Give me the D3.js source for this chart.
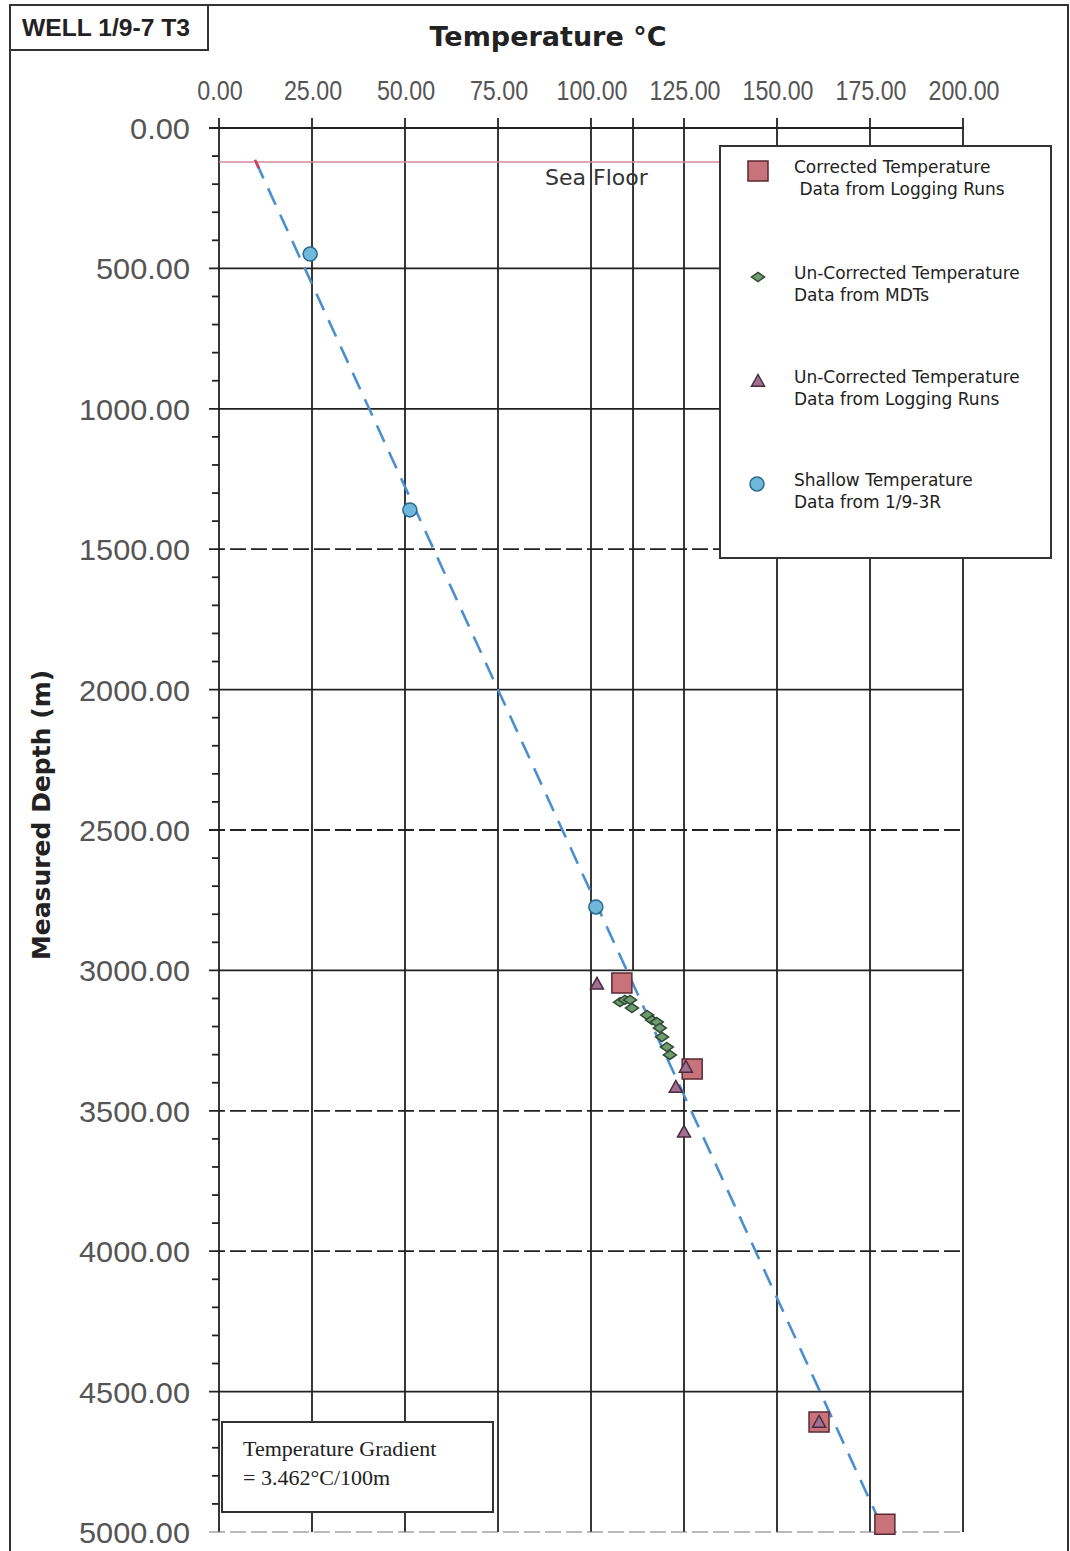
<!DOCTYPE html>
<html>
<head>
<meta charset="utf-8">
<script src="https://cdn.jsdelivr.net/npm/d3@7"></script>
<style>
  body { margin: 0; background: #fff; }
  svg { display: block; }
</style>
</head>
<body>
<div id="chart"></div>
<script>
'use strict'

// axis ticks
const tempTicks = [0, 25, 50, 75, 100, 125, 150, 175, 200]
const depthTicks = [0, 500, 1000, 1500, 2000, 2500, 3000, 3500, 4000, 4500, 5000]
const dashedDepths = [1500, 2500, 3500, 4000, 5000]

// corrected temperature, logging runs
const correctedTemp = [108.3, 127.2, 161.3, 179.0]
const correctedDepth = [3045, 3351, 4608, 4972]

// un-corrected, MDTs
const mdtTemp = [107.8, 109.1, 110.5, 111.0, 115.1, 116.4, 117.7, 118.5, 119.1, 120.4, 121.2]
const mdtDepth = [3113, 3105, 3105, 3134, 3159, 3177, 3184, 3205, 3237, 3273, 3301]

// un-corrected, logging runs
const loggingTemp = [101.6, 125.5, 122.8, 125.0, 161.3]
const loggingDepth = [3048, 3344, 3415, 3575, 4608]

// shallow data from 1/9-3R
const shallowTemp = [24.5, 51.3, 101.3]
const shallowDepth = [449, 1360, 2774]

// gradient line + sea floor
const seaFloorDepth = 121
const surfaceTemp = 5.76
const gradientPer100m = 3.462
const lineEndDepth = 5000
const refLineTemp = 111.3
const refLineDepth = 3000

const W = 1070, H = 1551
const x = d3.scaleLinear().domain([0, 200]).range([219, 963])
const y = d3.scaleLinear().domain([0, 5000]).range([128, 1532])

const svg = d3.select('#chart').append('svg')
  .attr('width', W).attr('height', H)

const comic = '"Comic Sans MS", "DejaVu Sans", sans-serif'
const sans = '"Liberation Sans", Arial, sans-serif'

// narrow digits: squeeze labels to the width seen in the chart
const labelWidth = (s, digitW, dotW) => s.replace('.', '').length * digitW + dotW

// outer frame
svg.append('rect')
  .attr('x', 10).attr('y', 5).attr('width', 1058).attr('height', H)
  .attr('fill', 'none').attr('stroke', '#333').attr('stroke-width', 2)

// well label box
svg.append('rect')
  .attr('x', 10).attr('y', 5).attr('width', 198).attr('height', 45)
  .attr('fill', '#fff').attr('stroke', '#333').attr('stroke-width', 2)
svg.append('text')
  .attr('x', 22).attr('y', 36)
  .attr('textLength', 168).attr('lengthAdjust', 'spacingAndGlyphs')
  .style('font-family', sans).style('font-weight', 'bold').style('font-size', '24px')
  .attr('fill', '#222')
  .text('WELL 1/9-7 T3')

// title
svg.append('text')
  .attr('x', 548).attr('y', 46).attr('text-anchor', 'middle')
  .style('font-family', comic).style('font-weight', 'bold').style('font-size', '27px')
  .attr('fill', '#222')
  .text('Temperature °C')

// y title
svg.append('text')
  .attr('transform', 'translate(50,815)rotate(-90)')
  .attr('text-anchor', 'middle')
  .style('font-family', comic).style('font-weight', 'bold').style('font-size', '25px')
  .attr('fill', '#222')
  .text('Measured Depth (m)')

const grid = svg.append('g')

// vertical grid lines + top ticks
grid.selectAll('line.vg')
  .data(tempTicks)
  .enter().append('line')
  .attr('x1', (d) => x(d)).attr('x2', (d) => x(d))
  .attr('y1', y(0) - 10).attr('y2', y(5000))
  .attr('stroke', '#222').attr('stroke-width', 1.8)

// extra reference line
grid.append('line')
  .attr('x1', x(refLineTemp)).attr('x2', x(refLineTemp))
  .attr('y1', y(0) - 10).attr('y2', y(refLineDepth))
  .attr('stroke', '#222').attr('stroke-width', 1.8)

// horizontal grid lines
grid.selectAll('line.hg')
  .data(depthTicks)
  .enter().append('line')
  .attr('x1', x(0) - 10).attr('x2', x(200))
  .attr('y1', (d) => y(d)).attr('y2', (d) => y(d))
  .attr('stroke', (d) => d === 5000 ? '#777' : '#222')
  .attr('stroke-width', (d) => d === 5000 ? 1.2 : 1.8)
  .attr('stroke-dasharray', (d) => dashedDepths.includes(d) ? '16,5' : null)

// minor ticks on depth axis
grid.selectAll('line.minor')
  .data(d3.range(0, 5001, 100).filter((d) => d % 500 !== 0))
  .enter().append('line')
  .attr('x1', x(0) - 7).attr('x2', x(0))
  .attr('y1', (d) => y(d)).attr('y2', (d) => y(d))
  .attr('stroke', '#222').attr('stroke-width', 1.8)

// tick labels
svg.append('g').selectAll('text')
  .data(tempTicks)
  .enter().append('text')
  .attr('x', (d) => x(d) + 1).attr('y', 100)
  .attr('text-anchor', 'middle')
  .attr('textLength', (d) => labelWidth(d.toFixed(2), 12.8, 7))
  .attr('lengthAdjust', 'spacingAndGlyphs')
  .style('font-family', sans).style('font-size', '27px')
  .attr('fill', '#555')
  .text((d) => d.toFixed(2))

svg.append('g').selectAll('text')
  .data(depthTicks)
  .enter().append('text')
  .attr('x', 190).attr('y', (d) => y(d) + 11)
  .attr('text-anchor', 'end')
  .attr('textLength', (d) => labelWidth(d.toFixed(2), 17, 9))
  .attr('lengthAdjust', 'spacingAndGlyphs')
  .style('font-family', sans).style('font-size', '30px')
  .attr('fill', '#555')
  .text((d) => d.toFixed(2))

// sea floor
svg.append('line')
  .attr('x1', x(0)).attr('x2', x(200))
  .attr('y1', y(seaFloorDepth)).attr('y2', y(seaFloorDepth))
  .attr('stroke', '#d48a98').attr('stroke-width', 1.6)
svg.append('text')
  .attr('x', 545).attr('y', 185)
  .style('font-family', comic).style('font-size', '22px')
  .attr('fill', '#333')
  .text('Sea Floor')

// gradient line
const tAt = (d) => surfaceTemp + gradientPer100m * d / 100
svg.append('line')
  .attr('x1', x(tAt(seaFloorDepth))).attr('y1', y(seaFloorDepth))
  .attr('x2', x(tAt(lineEndDepth))).attr('y2', y(lineEndDepth))
  .attr('stroke', '#4a8fd0').attr('stroke-width', 2.6)
  .attr('stroke-dasharray', '18,11')
svg.append('line')
  .attr('x1', x(tAt(seaFloorDepth - 8))).attr('y1', y(seaFloorDepth - 8))
  .attr('x2', x(tAt(seaFloorDepth + 22))).attr('y2', y(seaFloorDepth + 22))
  .attr('stroke', '#d0405a').attr('stroke-width', 2.6)

// markers
const shapes = {
  square: (s) => `M${-s},${-s}H${s}V${s}H${-s}Z`,
  triangle: (s) => `M0,${-s}L${s},${s * 0.8}H${-s}Z`,
  diamond: (s) => `M0,${-s * 0.7}L${s},0L0,${s * 0.7}L${-s},0Z`,
}
const styles = {
  corrected: {shape: 'square', size: 10, fill: '#c8737c', stroke: '#5a2a32'},
  logging: {shape: 'triangle', size: 6.5, fill: '#a07090', stroke: '#4a2a40'},
  mdt: {shape: 'diamond', size: 6.5, fill: '#6f9a72', stroke: '#2f4a32'},
  shallow: {shape: 'circle', size: 7, fill: '#6fb8dc', stroke: '#2a6a8c'},
}

const drawMarks = (temps, depths, st) => {
  const g = svg.append('g')
  const pts = temps.map((t, i) => ({t: t, d: depths[i]}))
  if (st.shape === 'circle') {
    g.selectAll('circle').data(pts).enter().append('circle')
      .attr('cx', (p) => x(p.t)).attr('cy', (p) => y(p.d)).attr('r', st.size)
      .attr('fill', st.fill).attr('stroke', st.stroke).attr('stroke-width', 1.5)
  } else {
    g.selectAll('path').data(pts).enter().append('path')
      .attr('d', shapes[st.shape](st.size))
      .attr('transform', (p) => 'translate(' + [x(p.t), y(p.d)] + ')')
      .attr('fill', st.fill).attr('stroke', st.stroke).attr('stroke-width', 1.5)
  }
}

drawMarks(correctedTemp, correctedDepth, styles.corrected)
drawMarks(shallowTemp, shallowDepth, styles.shallow)
drawMarks(mdtTemp, mdtDepth, styles.mdt)
drawMarks(loggingTemp, loggingDepth, styles.logging)

// legend
const legend = svg.append('g')
legend.append('rect')
  .attr('x', 720).attr('y', 146).attr('width', 331).attr('height', 412)
  .attr('fill', '#fff').attr('stroke', '#333').attr('stroke-width', 2)

const legendItems = [
  {st: styles.corrected, y: 171, lines: ['Corrected Temperature', ' Data from Logging Runs']},
  {st: styles.mdt, y: 277, lines: ['Un-Corrected Temperature', 'Data from MDTs']},
  {st: styles.logging, y: 381, lines: ['Un-Corrected Temperature', 'Data from Logging Runs']},
  {st: styles.shallow, y: 484, lines: ['Shallow Temperature', 'Data from 1/9-3R']},
]
legendItems.forEach((it) => {
  const st = it.st
  if (st.shape === 'circle') {
    legend.append('circle').attr('cx', 757).attr('cy', it.y).attr('r', st.size)
      .attr('fill', st.fill).attr('stroke', st.stroke).attr('stroke-width', 1.5)
  } else {
    legend.append('path').attr('d', shapes[st.shape](st.size))
      .attr('transform', 'translate(758,' + it.y + ')')
      .attr('fill', st.fill).attr('stroke', st.stroke).attr('stroke-width', 1.5)
  }
  it.lines.forEach((l, i) => {
    legend.append('text')
      .attr('x', 794).attr('y', it.y + 2 + i * 22)
      .attr('xml:space', 'preserve')
      .style('font-family', comic).style('font-size', '17px')
      .attr('fill', '#222')
      .text(l)
  })
})

// gradient annotation
svg.append('rect')
  .attr('x', 222).attr('y', 1422).attr('width', 271).attr('height', 90)
  .attr('fill', '#fff').attr('stroke', '#333').attr('stroke-width', 2)
const gradLines = ['Temperature Gradient', '= ' + gradientPer100m.toFixed(3) + '°C/100m']
gradLines.forEach((l, i) => {
  svg.append('text')
    .attr('x', 243).attr('y', 1456 + i * 29)
    .style('font-family', '"Liberation Serif", "DejaVu Serif", serif').style('font-size', '22px')
    .attr('fill', '#222')
    .text(l)
})
</script>
</body>
</html>
